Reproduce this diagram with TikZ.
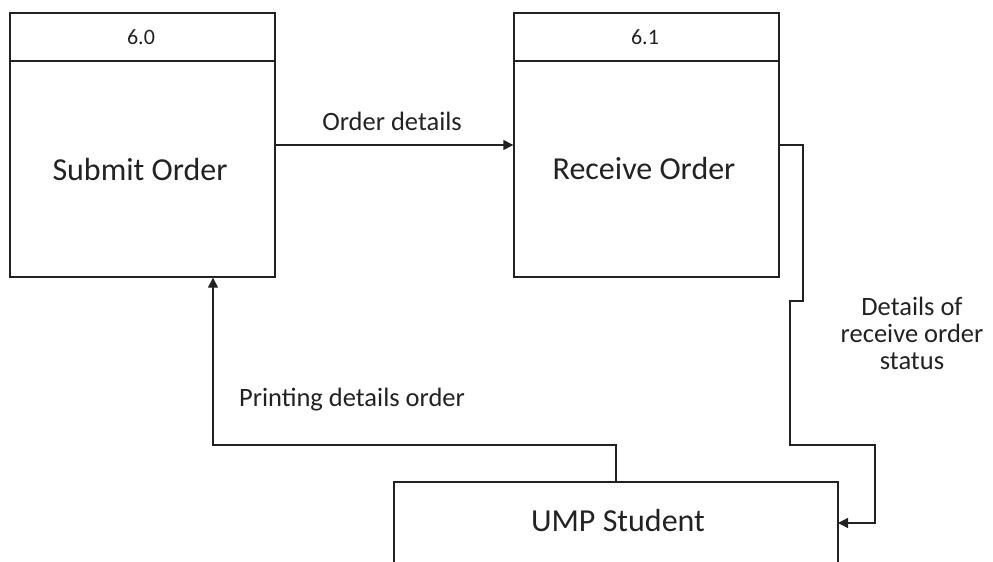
\documentclass[tikz,border=0pt]{standalone}
\usepackage{fontspec}
\setmainfont{Carlito}
\usetikzlibrary{arrows.meta}
\definecolor{ink}{HTML}{222222}
\tikzset{
  proc/.style={draw=ink, line width=1.4pt, minimum width=265pt, minimum height=264pt, inner sep=0pt},
  ext/.style={draw=ink, line width=1.4pt, minimum width=444pt, minimum height=240pt, inner sep=0pt},
  flow/.style={draw=ink, line width=1.4pt, -{Triangle[length=10pt,width=10pt]}},
  big/.style={font=\fontsize{32pt}{38pt}\selectfont, text=ink},
  small/.style={font=\fontsize{26.5pt}{27pt}\selectfont, text=ink, align=center},
  tiny/.style={font=\fontsize{22pt}{26pt}\selectfont, text=ink}
}
\begin{document}
\begin{tikzpicture}[x=1pt,y=-1pt]
  \useasboundingbox (0,0) rectangle (993,562);
  \clip (0,0) rectangle (993,562);
  % process 6.0
  \node[proc] (A) at (142.5,145) {};
  \draw[ink, line width=1.4pt] (10,61) -- (275,61);
  \node[tiny] (An) at (141,37) {6.0};
  \node[big] (At) at (140,170) {Submit Order};
  % process 6.1
  \node[proc] (B) at (646.5,145) {};
  \draw[ink, line width=1.4pt] (514,61) -- (779,61);
  \node[tiny] (Bn) at (645,37) {6.1};
  \node[big] (Bt) at (644,168) {Receive Order};
  % external entity
  \node[ext] (C) at (616,602) {};
  \node[big] (Ct) at (618,521) {UMP Student};
  % flows
  \draw[flow] (A.east) -- (B.west);
  \node[small] (l1) at (392,121) {Order details};
  \coordinate (cin) at (838,523);
  \draw[flow] (B.east) -- (803,145) -- (803,301) -- (790,301) -- (790,445)
    -- (875,445) -- (875,523) -- (cin);
  \node[small] (l2) at (912,333) {Details of\\receive order\\status};
  \draw[flow] (C.north) -- (616,445) -- (213,445) -- (A.south -| 213,0);
  \node[small] (l3) at (352,400) {Printing details order};
\end{tikzpicture}
\end{document}
